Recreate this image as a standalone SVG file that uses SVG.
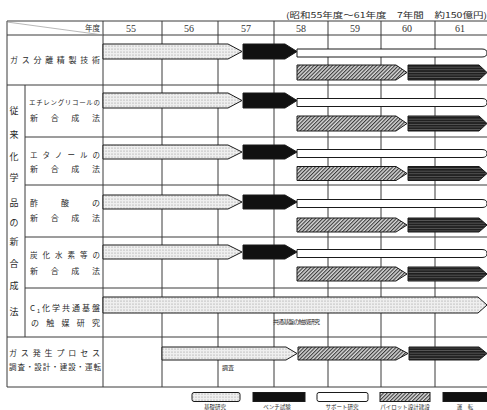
<svg xmlns="http://www.w3.org/2000/svg" width="487" height="410" viewBox="0 0 487 410">
<defs>
<pattern id="dots" width="3" height="3" patternUnits="userSpaceOnUse"><rect width="3" height="3" fill="#efefef"/><circle cx="1" cy="1" r="0.6" fill="#8f8f8f"/></pattern>
<pattern id="hatch" width="2.6" height="2.6" patternUnits="userSpaceOnUse" patternTransform="rotate(45)"><rect width="2.6" height="2.6" fill="#d8d8d8"/><rect width="1.1" height="2.6" fill="#3a3a3a"/></pattern>
<pattern id="stripes" width="4" height="2.6" patternUnits="userSpaceOnUse"><rect width="4" height="2.6" fill="#1e1e1e"/><rect y="1.7" width="4" height="0.5" fill="#8a8a8a"/></pattern>
<style>
.g{stroke:#3a3a3a;stroke-width:1;fill:none}
.t{font-family:"Noto Sans CJK JP","Noto Sans",sans-serif;fill:#2a2a2a}
.n{font-family:"Liberation Serif","DejaVu Serif",serif;fill:#333;font-size:10px;text-anchor:middle}
.bar{stroke:#1a1a1a;stroke-width:1}
.dot{fill:url(#dots)}
.blk{fill:#111}
.wht{fill:#fff}
.hat{fill:url(#hatch)}
.str{fill:url(#stripes)}
</style>
</defs>

<g id="heading">
<text class="t" x="286" y="18" font-size="8" textLength="201" lengthAdjust="spacingAndGlyphs">(昭和55年度〜61年度　7年間　約150億円)</text>
</g>

<g id="grid">
<line class="g" x1="7" y1="21" x2="487" y2="21"/>
<line class="g" x1="7" y1="35" x2="487" y2="35"/>
<line class="g" x1="7" y1="85" x2="487" y2="85"/>
<line class="g" x1="25" y1="137" x2="487" y2="137"/>
<line class="g" x1="25" y1="185" x2="487" y2="185"/>
<line class="g" x1="25" y1="237" x2="487" y2="237"/>
<line class="g" x1="25" y1="288" x2="487" y2="288"/>
<line class="g" x1="7" y1="337" x2="487" y2="337"/>
<line class="g" x1="7" y1="387" x2="487" y2="387"/>
<line class="g" x1="7" y1="21" x2="7" y2="387"/>
<line class="g" x1="25" y1="85" x2="25" y2="337"/>
<line class="g" x1="103" y1="21" x2="103" y2="387"/>
<line class="g" x1="162" y1="21" x2="162" y2="387"/>
<line class="g" x1="218" y1="21" x2="218" y2="387"/>
<line class="g" x1="274" y1="21" x2="274" y2="387"/>
<line class="g" x1="328" y1="21" x2="328" y2="387"/>
<line class="g" x1="381" y1="21" x2="381" y2="387"/>
<line class="g" x1="435" y1="21" x2="435" y2="387"/>
<line x1="7" y1="22" x2="103" y2="35" stroke="#999" stroke-width="0.7"/>
</g>

<g id="header">
<text class="t" x="100" y="31" font-size="7.5" text-anchor="end">年度</text>
<text class="n" x="131" y="32">55</text>
<text class="n" x="189" y="32">56</text>
<text class="n" x="246" y="32">57</text>
<text class="n" x="301" y="32">58</text>
<text class="n" x="355" y="32">59</text>
<text class="n" x="407" y="32">60</text>
<text class="n" x="460" y="32">61</text>
</g>

<g id="group-label" class="t" font-size="9" text-anchor="middle">
<text x="14" y="114">従</text>
<text x="14" y="138">来</text>
<text x="14" y="160">化</text>
<text x="14" y="181">学</text>
<text x="14" y="206">品</text>
<text x="14" y="226">の</text>
<text x="14" y="245">新</text>
<text x="14" y="267">合</text>
<text x="14" y="289">成</text>
<text x="14" y="315">法</text>
</g>

<g id="row-gas-separation">
<text class="t" x="10" y="63" font-size="8" textLength="90" lengthAdjust="spacing">ガス分離精製技術</text>
<polygon class="bar dot" points="103,44 228,44 242,51.5 228,59 103,59"/>
<polygon class="bar blk" points="243,44 285,44 297,51.5 285,59 243,59"/>
<path class="bar wht" d="M297,49 H482 Q487,49 487,53 Q487,57 482,57 H297 Z"/>
<polygon class="bar hat" points="297,65 396,65 407,72.5 396,80 297,80"/>
<polygon class="bar str" points="408,65 479,65 487,72.5 479,80 408,80"/>
</g>

<g id="row-ethylene-glycol">
<text class="t" x="29" y="105" font-size="6.5" textLength="71" lengthAdjust="spacing">エチレングリコールの</text>
<text class="t" x="30" y="121" font-size="8" textLength="70" lengthAdjust="spacing">新合成法</text>
<polygon class="bar dot" points="103,93 228,93 242,100.5 228,108 103,108"/>
<polygon class="bar blk" points="243,93 285,93 297,100.5 285,108 243,108"/>
<path class="bar wht" d="M297,98.5 H482 Q487,98.5 487,102.5 Q487,106.5 482,106.5 H297 Z"/>
<polygon class="bar hat" points="297,116 396,116 407,123.5 396,131 297,131"/>
<polygon class="bar str" points="408,116 479,116 487,123.5 479,131 408,131"/>
</g>

<g id="row-ethanol">
<text class="t" x="30" y="158" font-size="7.5" textLength="70" lengthAdjust="spacing">エタノールの</text>
<text class="t" x="30" y="172" font-size="8" textLength="70" lengthAdjust="spacing">新合成法</text>
<polygon class="bar dot" points="103,145 228,145 242,152 228,159 103,159"/>
<polygon class="bar blk" points="243,145 285,145 297,152 285,159 243,159"/>
<path class="bar wht" d="M297,149.5 H482 Q487,149.5 487,153.5 Q487,157.5 482,157.5 H297 Z"/>
<polygon class="bar hat" points="297,166.5 396,166.5 407,173.5 396,180.5 297,180.5"/>
<polygon class="bar str" points="408,166.5 479,166.5 487,173.5 479,180.5 408,180.5"/>
</g>

<g id="row-acetic-acid">
<text class="t" x="30" y="206" font-size="8" textLength="70" lengthAdjust="spacing">酢酸の</text>
<text class="t" x="30" y="221" font-size="8" textLength="70" lengthAdjust="spacing">新合成法</text>
<polygon class="bar dot" points="103,195 228,195 242,202 228,209 103,209"/>
<polygon class="bar blk" points="243,195 285,195 297,202 285,209 243,209"/>
<path class="bar wht" d="M297,199.5 H482 Q487,199.5 487,203.5 Q487,207.5 482,207.5 H297 Z"/>
<polygon class="bar hat" points="297,218 396,218 407,225 396,232 297,232"/>
<polygon class="bar str" points="408,218 479,218 487,225 479,232 408,232"/>
</g>

<g id="row-hydrocarbons">
<text class="t" x="30" y="258" font-size="7.5" textLength="70" lengthAdjust="spacing">炭化水素等の</text>
<text class="t" x="30" y="274" font-size="8" textLength="70" lengthAdjust="spacing">新合成法</text>
<polygon class="bar dot" points="103,245 228,245 242,252 228,259 103,259"/>
<polygon class="bar blk" points="243,245 285,245 297,252 285,259 243,259"/>
<path class="bar wht" d="M297,249.5 H482 Q487,249.5 487,253.5 Q487,257.5 482,257.5 H297 Z"/>
<polygon class="bar hat" points="297,267 396,267 407,274 396,281 297,281"/>
<polygon class="bar str" points="408,267 479,267 487,274 479,281 408,281"/>
</g>

<g id="row-c1-catalyst">
<text class="t" x="30" y="311" font-size="8" textLength="70" lengthAdjust="spacing">C<tspan font-size="5.5" dy="1.5">1</tspan><tspan dy="-1.5">化学共通基盤</tspan></text>
<text class="t" x="31" y="326" font-size="8" textLength="69" lengthAdjust="spacing">の触媒研究</text>
<polygon class="bar dot" points="103,297 478,297 487,305 478,313 103,313"/>
<text class="t" x="273" y="324" font-size="6" textLength="47" lengthAdjust="spacing">共通基盤の触媒研究</text>
</g>

<g id="row-gas-generation">
<text class="t" x="9" y="356" font-size="8" textLength="91" lengthAdjust="spacing">ガス発生プロセス</text>
<text class="t" x="9" y="370" font-size="7.5" textLength="92" lengthAdjust="spacing">調査・設計・建設・運転</text>
<polygon class="bar dot" points="162,347 286,347 297,353.5 286,360 162,360"/>
<polygon class="bar hat" points="298,347 396,347 408,353.5 396,360 298,360"/>
<polygon class="bar str" points="409,347 479,347 487,353.5 479,360 409,360"/>
<text class="t" x="222" y="370" font-size="6">調査</text>
</g>

<g id="legend">
<rect class="bar dot" x="192" y="392.5" width="48" height="9" rx="2"/>
<rect class="bar blk" x="253" y="392.5" width="52" height="9"/>
<rect class="bar wht" x="317" y="392.5" width="51" height="9" rx="2"/>
<rect class="bar hat" x="380" y="392.5" width="50" height="9"/>
<rect class="bar blk" x="443" y="392.5" width="50" height="9"/>
<g class="t" font-size="5.5" text-anchor="middle">
<text x="215" y="408.5">基礎研究</text>
<text x="277" y="408.5">ベンチ試験</text>
<text x="342" y="408.5">サポート研究</text>
<text x="405" y="408.5">パイロット設計建設</text>
<text x="465" y="408.5">運　転</text>
</g>
</g>
</svg>
